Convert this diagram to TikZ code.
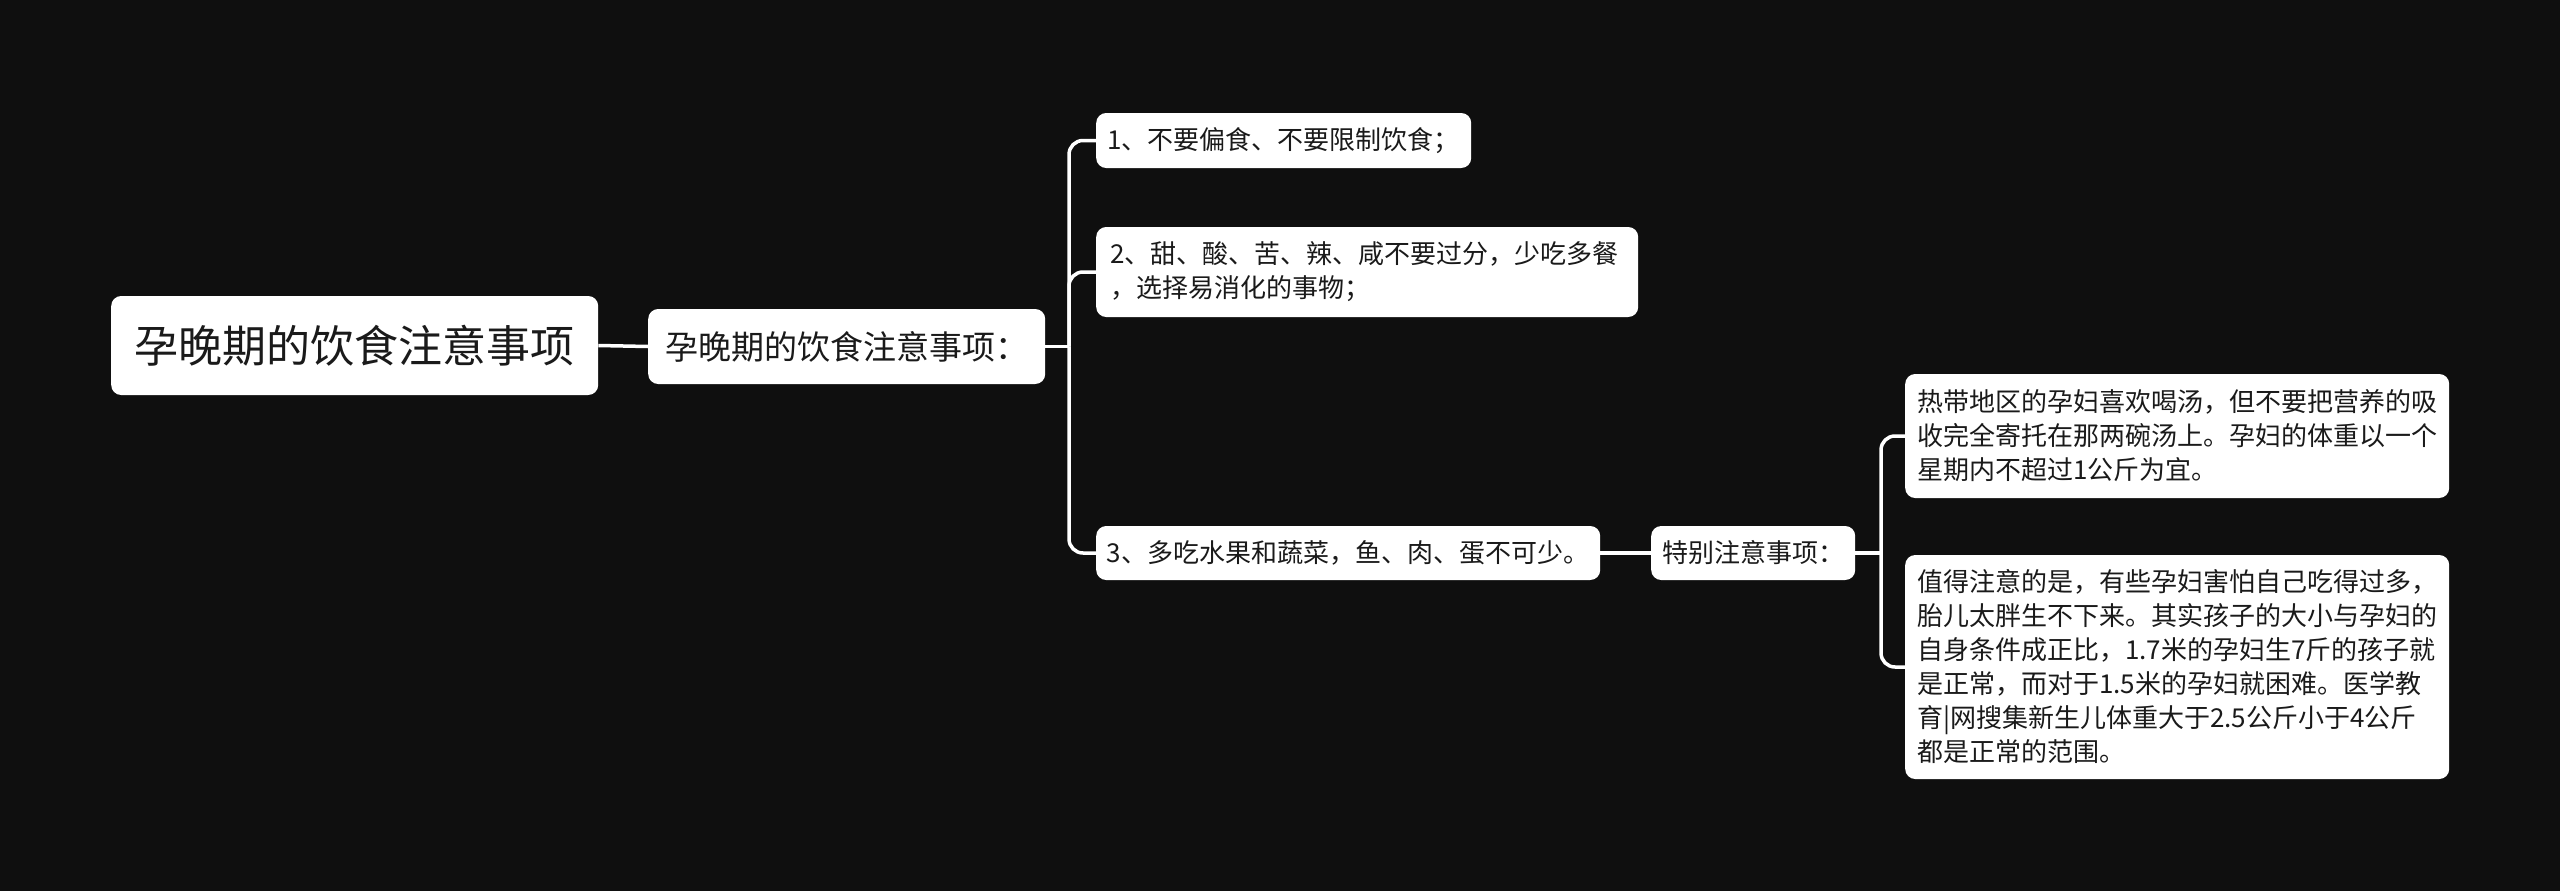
\documentclass[tikz,border=0pt]{standalone}
\usepackage{fontspec}
\newfontfamily\cjk{Noto Sans CJK SC}
\definecolor{bgc}{HTML}{0F0F0F}
\definecolor{txt}{HTML}{1A1A1A}
\tikzset{
  box/.style={fill=white, rounded corners=10pt, inner xsep=14pt, inner ysep=0pt,
    text=txt, anchor=west, align=center,
    font=\cjk\fontsize{26pt}{34pt}\selectfont},
  leaf/.style={box, align=left, text width=520pt, inner xsep=12pt},
  link/.style={draw=white, line width=3.5pt, rounded corners=14pt}
}
\begin{document}
\begin{tikzpicture}[x=1pt,y=-1pt]
\fill[bgc] (0,0) rectangle (2560,891);
\useasboundingbox (0,0) rectangle (2560,891);

\node[box, minimum width=487pt, minimum height=99pt, inner xsep=0pt,
  font=\cjk\fontsize{44pt}{50pt}\selectfont] (root) at (111,345.5) {孕晚期的饮食注意事项};
\node[box, minimum width=397pt, minimum height=75pt, inner xsep=0pt,
  font=\cjk\fontsize{33pt}{38pt}\selectfont] (l1) at (648,346.5) {孕晚期的饮食注意事项：};

\node[box, minimum width=375pt, minimum height=55pt, inner xsep=0pt] (i1) at (1096,140.5) {1、不要偏食、不要限制饮食；};
\node[box, align=left, text width=514pt, minimum height=90pt] (i2) at (1096,272) {2、甜、酸、苦、辣、咸不要过分，少吃多餐\\，选择易消化的事物；};
\node[box, minimum width=504pt, minimum height=54pt, inner xsep=0pt] (i3) at (1096,553) {3、多吃水果和蔬菜，鱼、肉、蛋不可少。};
\node[box, minimum width=204pt, minimum height=54pt, inner xsep=0pt] (sp) at (1651,553) {特别注意事项：};

\node[leaf, minimum height=124pt] (la) at (1905,436) {热带地区的孕妇喜欢喝汤，但不要把营养的吸\\收完全寄托在那两碗汤上。孕妇的体重以一个\\星期内不超过1公斤为宜。};
\node[leaf, minimum height=224pt] (lb) at (1905,667) {值得注意的是，有些孕妇害怕自己吃得过多，\\胎儿太胖生不下来。其实孩子的大小与孕妇的\\自身条件成正比，1.7米的孕妇生7斤的孩子就\\是正常，而对于1.5米的孕妇就困难。医学教\\育|网搜集新生儿体重大于2.5公斤小于4公斤\\都是正常的范围。};

\coordinate (j1) at (1069,346.5);
\coordinate (j2) at (1881,553);

\draw[link] (root.east) -- (l1.west);
\draw[link] (l1.east) -- (j1);
\draw[link] (j1) |- (i1.west);
\draw[link] (j1) |- (i2.west);
\draw[link] (j1) |- (i3.west);
\draw[link] (i3.east) -- (sp.west);
\draw[link] (sp.east) -- (j2);
\draw[link] (j2) |- (la.west);
\draw[link] (j2) |- (lb.west);
\end{tikzpicture}
\end{document}
